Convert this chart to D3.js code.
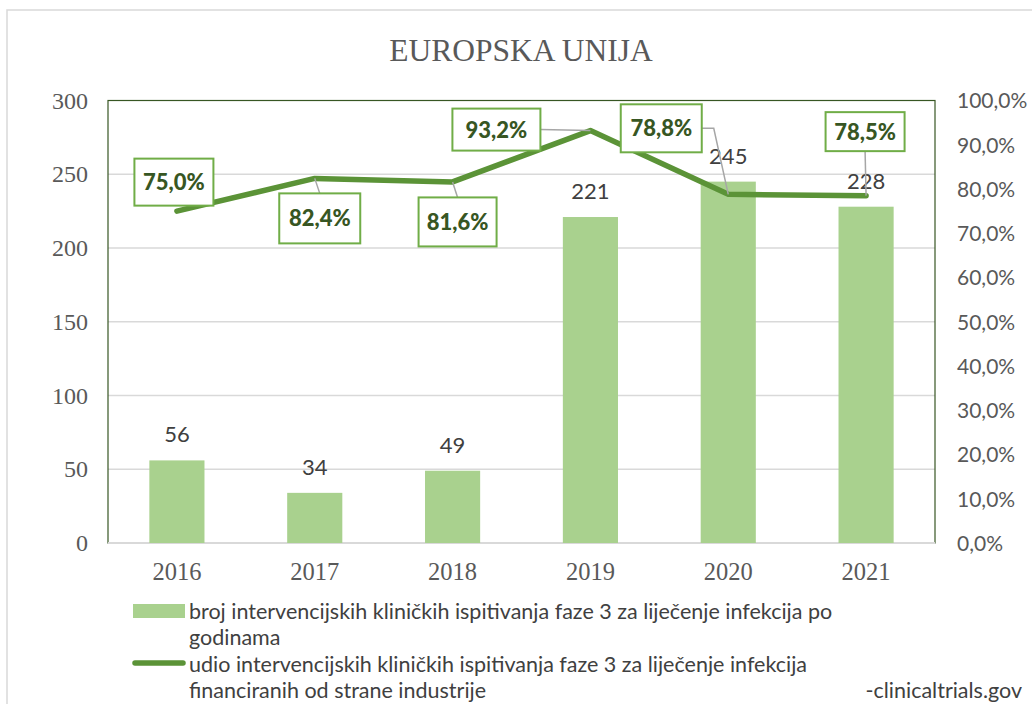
<!DOCTYPE html>
<html>
<head>
<meta charset="utf-8">
<script src="https://cdn.jsdelivr.net/npm/d3@7"></script>
<style>
  html, body { margin: 0; padding: 0; background: #fff; }
  svg { display: block; }
</style>
</head>
<body>
<svg id="chart" width="1032" height="704"></svg>
<script>
// ---- data ----
const years = ["2016", "2017", "2018", "2019", "2020", "2021"];
const trialCounts = [56, 34, 49, 221, 245, 228];
const industryShare = [0.750, 0.824, 0.816, 0.932, 0.788, 0.785];
const leftTicks = [0, 50, 100, 150, 200, 250, 300];
const rightTicks = [0, 0.1, 0.2, 0.3, 0.4, 0.5, 0.6, 0.7, 0.8, 0.9, 1.0];
const titleText = "EUROPSKA UNIJA";
const barSeriesName = ["broj intervencijskih kliničkih ispitivanja faze 3 za liječenje infekcija po", "godinama"];
const lineSeriesName = ["udio intervencijskih kliničkih ispitivanja faze 3 za liječenje infekcija", "financiranih od strane industrije"];
const sourceText = "-clinicaltrials.gov";

// ---- layout (label box placement relative to its point) ----
const labelLayout = [
  { dx: -3,  dy: -29, w: 79, h: 47, leader: "none" },
  { dx: 5,   dy: 40,  w: 81, h: 50, leader: "top" },
  { dx: 5,   dy: 40,  w: 78, h: 49, leader: "top" },
  { dx: -94, dy: -1,  w: 88, h: 42, leader: "right" },
  { dx: -67, dy: -66, w: 81, h: 48, leader: "rightElbow" },
  { dx: -1,  dy: -64, w: 79, h: 39, leader: "bottom" }
];

const W = 1032, H = 704;
const plot = { left: 108, right: 935, top: 100.5, bottom: 543 };
const C = {
  bar: "#a9d18e", line: "#5b9337", frame: "#375623", grid: "#d9d9d9",
  axisText: "#595959", labelText: "#404040", boxStroke: "#70ad47",
  boxText: "#375623", leader: "#a6a6a6"
};
const sans = "Lato, 'Noto Sans', sans-serif";
const serif = "'Liberation Serif', 'Times New Roman', serif";

const svg = d3.select("#chart");

const fmtPct = v => d3.format(".1f")(v * 100).replace(".", ",") + "%";

// outer chart border
svg.append("rect").attr("x", 7).attr("y", 10).attr("width", W + 20).attr("height", H + 20)
  .attr("fill", "none").attr("stroke", "#d9d9d9").attr("stroke-width", 1.5);

const x = d3.scaleBand().domain(years).range([plot.left, plot.right])
  .paddingInner(0.6).paddingOuter(0.3);
const y = d3.scaleLinear().domain([0, 300]).range([plot.bottom, plot.top]);
const y2 = d3.scaleLinear().domain([0, 1]).range([plot.bottom, plot.top]);

// title
svg.append("text").attr("x", 521).attr("y", 61).attr("text-anchor", "middle")
  .attr("font-family", serif).attr("font-size", 31.5).attr("fill", C.axisText)
  .text(titleText);

// gridlines
svg.append("g").selectAll("line").data(leftTicks.filter(d => d > 0 && d < 300)).join("line")
  .attr("x1", plot.left).attr("x2", plot.right)
  .attr("y1", d => y(d)).attr("y2", d => y(d))
  .attr("stroke", C.grid).attr("stroke-width", 1.5);

// plot frame
svg.append("rect").attr("x", plot.left).attr("y", plot.top)
  .attr("width", plot.right - plot.left).attr("height", plot.bottom - plot.top)
  .attr("fill", "none").attr("stroke", C.frame).attr("stroke-width", 1.2);
svg.append("line").attr("x1", plot.left).attr("x2", plot.right)
  .attr("y1", plot.bottom).attr("y2", plot.bottom)
  .attr("stroke", C.grid).attr("stroke-width", 2);

// left axis
const leftAxis = svg.append("g").attr("transform", `translate(${plot.left - 20},0)`)
  .call(d3.axisLeft(y).tickValues(leftTicks).tickSize(0).tickPadding(0));
leftAxis.select(".domain").remove();
leftAxis.selectAll("text").attr("font-family", serif).attr("font-size", 24)
  .attr("fill", C.axisText).attr("dy", "0.32em");

// right axis
const rightAxis = svg.append("g").attr("transform", `translate(${plot.right + 22},0)`)
  .call(d3.axisRight(y2).tickValues(rightTicks).tickSize(0).tickPadding(0).tickFormat(fmtPct));
rightAxis.select(".domain").remove();
rightAxis.selectAll("text").attr("font-family", sans).attr("font-size", 21)
  .attr("fill", C.axisText).attr("dy", "0.35em");

// bottom axis
const bottomAxis = svg.append("g").attr("transform", `translate(0,${plot.bottom + 17})`)
  .call(d3.axisBottom(x).tickSize(0).tickPadding(0));
bottomAxis.select(".domain").remove();
bottomAxis.selectAll("text").attr("font-family", serif).attr("font-size", 24.5)
  .attr("fill", C.axisText).attr("dy", "0.8em");

// bars
const rows = years.map((yr, i) => ({ yr, count: trialCounts[i], share: industryShare[i], lay: labelLayout[i] }));
svg.append("g").selectAll("rect").data(rows).join("rect")
  .attr("x", d => x(d.yr)).attr("width", x.bandwidth())
  .attr("y", d => y(d.count)).attr("height", d => y(0) - y(d.count))
  .attr("fill", C.bar);

// bar value labels
svg.append("g").selectAll("text").data(rows).join("text")
  .attr("x", d => x(d.yr) + x.bandwidth() / 2)
  .attr("y", d => y(d.count) - 18)
  .attr("text-anchor", "middle")
  .attr("font-family", sans).attr("font-size", 22).attr("fill", C.labelText)
  .text(d => d.count);

// line
const cx = d => x(d.yr) + x.bandwidth() / 2;
const cy = d => y2(d.share);
svg.append("path").datum(rows)
  .attr("d", d3.line().x(cx).y(cy))
  .attr("fill", "none").attr("stroke", C.line).attr("stroke-width", 5.5)
  .attr("stroke-linejoin", "round").attr("stroke-linecap", "round");

// leader lines
const leaderPath = d => {
  const px = cx(d), py = cy(d);
  const bx = px + d.lay.dx, by = py + d.lay.dy;
  const R = bx + d.lay.w / 2, T = by - d.lay.h / 2, B = by + d.lay.h / 2;
  switch (d.lay.leader) {
    case "top": return `M${bx},${T}L${px},${py}`;
    case "bottom": return `M${bx},${B}L${px},${py}`;
    case "right": return `M${R},${by}L${px},${py}`;
    case "rightElbow": return `M${R},${by}L${R + 12},${by}L${px},${py}`;
    default: return null;
  }
};
svg.append("g").selectAll("path").data(rows.filter(d => d.lay.leader !== "none")).join("path")
  .attr("d", leaderPath).attr("fill", "none")
  .attr("stroke", C.leader).attr("stroke-width", 1.5);

// label boxes
const lbl = svg.append("g").selectAll("g").data(rows).join("g")
  .attr("transform", d => `translate(${cx(d) + d.lay.dx},${cy(d) + d.lay.dy})`);
lbl.append("rect")
  .attr("x", d => -d.lay.w / 2).attr("y", d => -d.lay.h / 2)
  .attr("width", d => d.lay.w).attr("height", d => d.lay.h)
  .attr("fill", "#fff").attr("stroke", C.boxStroke).attr("stroke-width", 2);
lbl.append("text").attr("text-anchor", "middle").attr("dy", "0.36em")
  .attr("font-family", sans).attr("font-weight", 900).attr("font-size", 22)
  .attr("fill", C.boxText).text(d => fmtPct(d.share));

// legend
const lg = svg.append("g");
lg.append("rect").attr("x", 133).attr("y", 604).attr("width", 52).attr("height", 14).attr("fill", C.bar);
lg.append("line").attr("x1", 135).attr("x2", 183).attr("y1", 663).attr("y2", 663)
  .attr("stroke", C.line).attr("stroke-width", 5.5).attr("stroke-linecap", "round");
const legendText = (lines, y0) => lines.forEach((t, i) => {
  lg.append("text").attr("x", 189).attr("y", y0 + i * 26)
    .attr("font-family", sans).attr("font-size", 21.5).attr("fill", C.labelText)
    .attr("dy", "0.35em").text(t);
});
legendText(barSeriesName, 611);
legendText(lineSeriesName, 664);

svg.append("text").attr("x", 1022).attr("y", 690).attr("text-anchor", "end")
  .attr("dy", "0.35em").attr("font-family", sans).attr("font-size", 21.5)
  .attr("fill", C.labelText).text(sourceText);
</script>
</body>
</html>
